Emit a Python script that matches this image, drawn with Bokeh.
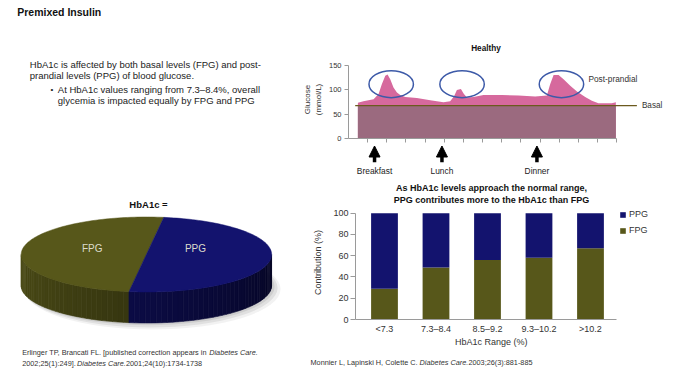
import numpy as np
from bokeh.plotting import figure
from bokeh.layouts import row, column
from bokeh.models import (Range1d, Label, Arrow, NormalHead, FixedTicker, Legend,
                          LegendItem, ColumnDataSource)
from bokeh.embed import file_html
from bokeh.resources import INLINE

FONT = "Liberation Sans"

# ---------------- data ----------------
glucose_time = [0.49, 0.78, 1.31, 1.57, 1.74, 1.92, 2.04, 2.18, 2.35, 2.53, 2.70, 2.96,
                3.57, 4.27, 4.96, 5.31, 5.52, 5.66, 5.87, 6.01, 6.18, 6.53, 7.05, 8.01,
                8.88, 9.75, 10.36, 10.53, 10.71, 10.97, 11.23, 11.58, 11.93, 12.36,
                12.71, 13.05, 13.75, 13.96]
glucose_value = [73, 76, 80, 91, 111, 128, 131, 121, 104, 94, 89, 85,
                 83, 78, 74, 76, 87, 99, 101, 92, 84, 85, 89, 89,
                 88, 86, 88, 111, 130, 130, 121, 108, 96, 85,
                 77, 72, 72, 74]
glucose_ticks = [0, 50, 100, 150]
basal_level = 67
meal_names = ["Breakfast", "Lunch", "Dinner"]
meal_time = [1.36, 4.88, 9.84]
peak_time = [2.23, 5.93, 11.12]
peak_level = [111, 111, 111]

pie_labels = ["FPG", "PPG"]
pie_values = [50, 50]

bar_categories = ["<7.3", "7.3\u20138.4", "8.5\u20139.2", "9.3\u201310.2", ">10.2"]
fpg_contrib = [29, 49, 56, 58, 67]
ppg_contrib = [71, 51, 44, 42, 33]
bar_ticks = [0, 20, 40, 60, 80, 100]

# ---------------- styles ----------------
OLIVE = "#57571a"
NAVY = "#13136e"
PINK = "#d6699d"
MAUVE = "#9b6a7f"
RING = "#3d5aa8"
AXIS = "#9a9a9a"
TXT = "#222222"


def label(p, x, y, text, size, style="normal", color=TXT, align="left",
          baseline="alphabetic", x_offset=0, angle=0):
    p.add_layout(Label(x=x, y=y, text=text, text_font=FONT,
                       text_font_size=f"{size}px", text_font_style=style,
                       text_color=color, text_align=align, text_baseline=baseline,
                       x_offset=x_offset, angle=angle))


def blank(w, h, xr, yr, **kw):
    opts = dict(min_border=0)
    opts.update(kw)
    p = figure(width=w, height=h, x_range=xr, y_range=yr, toolbar_location=None,
               output_backend="svg", x_axis_location=None, y_axis_location=None, **opts)
    p.outline_line_color = None
    for g in p.grid:
        g.visible = False
    return p


# ---------------- A: title + text (page px coords) ----------------
pA = blank(300, 180, Range1d(0, 300), Range1d(180, 0))
label(pA, 16.7, 11.7, "Premixed Insulin", 10.5, "bold", "#111111")
label(pA, 29.3, 64.4, "HbA1c is affected by both basal levels (FPG) and post-", 9.5)
label(pA, 29.3, 75.4, "prandial levels (PPG) of blood glucose.", 9.5)
label(pA, 50.0, 89.4, "\u2022", 8)
label(pA, 57.3, 89.4, "At HbA1c values ranging from 7.3\u20138.4%, overall", 9.5)
label(pA, 57.3, 100.4, "glycemia is impacted equally by FPG and PPG", 9.5)

# ---------------- C: 3D pie (page px coords) ----------------
pC = blank(300, 157, Range1d(0, 300), Range1d(337, 180))
cx, cy, ra, rb, depth = 145.9, 254.0, 125.2, 37.5, 31.0
base_cols = [OLIVE, NAVY]


def rgb(hx):
    return np.array([int(hx[i:i + 2], 16) for i in (1, 3, 5)], float)


# soft shadow under the disc
for k, al in [(6, 0.05), (4, 0.07), (2, 0.08)]:
    pC.ellipse(x=cx + k, y=cy + depth + k * 0.6, width=2 * ra + k, height=2 * rb + k,
               fill_color="#000000", fill_alpha=al, line_color=None)

vals = np.array(pie_values, float)
bounds = np.deg2rad(82) + np.concatenate([[0], np.cumsum(vals / vals.sum())]) * 2 * np.pi

sx, sy, scol = [], [], []
for i in range(len(vals)):
    b0, b1 = bounds[i], bounds[i + 1]
    for k in range(3):
        lo, hi = max(b0, np.pi + 2 * np.pi * k), min(b1, 2 * np.pi + 2 * np.pi * k)
        if hi <= lo:
            continue
        n = max(2, int(np.degrees(hi - lo) / 2.5))
        ts = np.linspace(lo, hi, n + 1)
        for t0, t1 in zip(ts[:-1], ts[1:]):
            tm = ((t0 + t1) / 2) % (2 * np.pi)
            f = 0.88 - 0.55 * (tm - np.pi) / np.pi
            c = np.clip(rgb(base_cols[i]) * f, 0, 255).astype(int)
            colr = "#%02x%02x%02x" % tuple(c)
            x0, x1 = cx + ra * np.cos(t0), cx + ra * np.cos(t1)
            y0, y1 = cy - rb * np.sin(t0), cy - rb * np.sin(t1)
            sx.append([x0, x1, x1, x0])
            sy.append([y0, y1, y1 + depth, y0 + depth])
            scol.append(colr)
pC.patches(sx, sy, fill_color=scol, line_color=scol, line_width=0.6)

for i in range(len(vals)):
    t = np.linspace(bounds[i], bounds[i + 1], 120)
    xs = np.concatenate([[cx], cx + ra * np.cos(t)])
    ys = np.concatenate([[cy], cy - rb * np.sin(t)])
    pC.patch(xs, ys, fill_color=base_cols[i], line_color=base_cols[i], line_width=0.5)

label(pC, 91.7, 248.3, pie_labels[0], 10, color="#dcdccc", align="center", baseline="middle")
label(pC, 195.0, 248.3, pie_labels[1], 10, color="#dcdccc", align="center", baseline="middle")
label(pC, 148.0, 204.0, "HbA1c =", 9.5, "bold", "#111111", "center", "middle")

# ---------------- B: glucose profile ----------------
pB_title = blank(400, 56, Range1d(348, 695), Range1d(56, 0), min_border_left=48, min_border_right=5)
label(pB_title, 485.5, 47.7, "Healthy", 8.2, "bold", "#111111", "center", "middle")

gx = Range1d(0, 18.12)
pB = figure(width=400, height=88, x_range=gx, y_range=Range1d(0, 159.4),
            toolbar_location=None, output_backend="svg",
            min_border_left=48, min_border_right=5, min_border_top=4, min_border_bottom=6)
pB.outline_line_color = None
pB.grid.visible = False
pB.varea(x=glucose_time, y1=0, y2=glucose_value, fill_color=PINK)
pB.varea(x=glucose_time, y1=0, y2=[min(v, basal_level) for v in glucose_value], fill_color=MAUVE)
pB.line([0.35, 15.06], [basal_level, basal_level], line_color="#6b5a1e", line_width=1.3)
pB.ellipse(x=peak_time, y=peak_level, width=2.32, height=55, fill_color=None,
           line_color=RING, line_width=1.5)
label(pB, 12.53, 122.6, "Post-prandial", 8.3, color="#333333", baseline="middle")
label(pB, 15.32, 66.8, "Basal", 8.2, color="#333333", baseline="middle")

xa = pB.xaxis[0]
xa.ticker = FixedTicker(ticks=list(range(1, 15)))
xa.major_label_text_font_size = "1px"
xa.major_label_text_color = None
xa.major_label_standoff = 0
xa.bounds = (0, 14)
xa.major_tick_out = 4
xa.major_tick_in = 0
xa.minor_tick_line_color = None
xa.axis_line_color = AXIS
xa.major_tick_line_color = AXIS

ya = pB.yaxis[0]
ya.ticker = FixedTicker(ticks=glucose_ticks)
ya.bounds = (0, 150)
ya.major_tick_out = 4
ya.major_tick_in = 0
ya.minor_tick_line_color = None
ya.axis_line_color = AXIS
ya.major_tick_line_color = AXIS
ya.major_label_text_font = FONT
ya.major_label_text_font_size = "7.5px"
ya.major_label_text_color = "#333333"
ya.major_label_standoff = 3
ya.axis_label = "Glucose\n(mmol/L)"
ya.axis_label_text_font = FONT
ya.axis_label_text_font_size = "8px"
ya.axis_label_text_font_style = "normal"
ya.axis_label_text_color = "#333333"
ya.axis_label_standoff = 3

pB_bot = blank(400, 36, gx, Range1d(180, 144), min_border_left=48, min_border_right=5)
for name, t in zip(meal_names, meal_time):
    pB_bot.add_layout(Arrow(end=NormalHead(size=11, fill_color="black", line_color="black"),
                            x_start=t, y_start=161.7, x_end=t, y_end=145.5,
                            line_width=3.5, line_color="black"))
    label(pB_bot, t, 170.0, name, 8.4, color="#222222", align="center", baseline="middle")

# ---------------- D: stacked bars ----------------
pD_title = blank(400, 25, Range1d(355, 695), Range1d(205, 180), min_border_left=55, min_border_right=5)
label(pD_title, 491.0, 187.3, "As HbA1c levels approach the normal range,", 9, "bold", "#111111", "center", "middle")
label(pD_title, 491.0, 199.0, "PPG contributes more to the HbA1c than FPG", 9, "bold", "#111111", "center", "middle")

pD = figure(width=400, height=132, x_range=Range1d(-0.563, 6.039), y_range=Range1d(0, 107.2),
            toolbar_location=None, output_backend="svg",
            min_border_left=55, min_border_right=5, min_border_top=0, min_border_bottom=18)
pD.outline_line_color = None
pD.grid.visible = False
src = ColumnDataSource(dict(x=list(range(len(bar_categories))), FPG=fpg_contrib, PPG=ppg_contrib))
rs = pD.vbar_stack(["FPG", "PPG"], x="x", width=0.52, fill_color=[OLIVE, NAVY],
                   line_color=None, source=src)

xd = pD.xaxis[0]
xd.ticker = FixedTicker(ticks=list(range(len(bar_categories))))
xd.major_label_overrides = {i: c for i, c in enumerate(bar_categories)}
xd.bounds = (-0.563, 4.5)
xd.major_tick_out = 0
xd.major_tick_in = 0
xd.minor_tick_line_color = None
xd.axis_line_color = AXIS
xd.major_label_text_font = FONT
xd.major_label_text_font_size = "9px"
xd.major_label_text_color = "#333333"
xd.major_label_standoff = 4

yd = pD.yaxis[0]
yd.ticker = FixedTicker(ticks=bar_ticks)
yd.bounds = (0, 100)
yd.major_tick_out = 5
yd.major_tick_in = 0
yd.minor_tick_line_color = None
yd.axis_line_color = AXIS
yd.major_tick_line_color = AXIS
yd.major_label_text_font = FONT
yd.major_label_text_font_size = "9px"
yd.major_label_text_color = "#333333"
yd.major_label_standoff = 2
yd.axis_label = "Contribution (%)"
yd.axis_label_text_font = FONT
yd.axis_label_text_font_size = "9px"
yd.axis_label_text_font_style = "normal"
yd.axis_label_text_color = "#333333"
yd.axis_label_standoff = 7

legend = Legend(items=[LegendItem(label="PPG", renderers=[rs[1]]),
                       LegendItem(label="FPG", renderers=[rs[0]])],
                location=(264, 83), background_fill_alpha=0, border_line_color=None,
                padding=0, margin=0, spacing=4, glyph_width=7, glyph_height=7,
                label_height=12, label_standoff=3, label_text_font=FONT,
                label_text_font_size="9px", label_text_color="#333333")
pD.add_layout(legend)

# ---------------- bottom strip: citations + x-axis title ----------------
pS = blank(700, 38, Range1d(0, 700), Range1d(375, 337))
label(pS, 21.7, 351.5, "Erlinger TP, Brancati FL. [published correction appears in ", 7.3, color="#333333")
label(pS, 21.7, 351.5, "Diabetes Care.", 7.3, "italic", "#333333", x_offset=187.0)
label(pS, 21.7, 362.5, "2002;25(1):249]. ", 7.3, color="#333333")
label(pS, 21.7, 362.5, "Diabetes Care.", 7.3, "italic", "#333333", x_offset=54.9)
label(pS, 21.7, 362.5, " 2001;24(10):1734-1738", 7.3, color="#333333", x_offset=103.7)
label(pS, 490.8, 341.7, "HbA1c Range (%)", 9, color="#333333", align="center", baseline="middle")
label(pS, 310.0, 361.5, "Monnier L, Lapinski H, Colette C. ", 7.3, color="#333333")
label(pS, 310.0, 361.5, "Diabetes Care.", 7.3, "italic", "#333333", x_offset=109.1)
label(pS, 310.0, 361.5, " 2003;26(3):881-885", 7.3, color="#333333", x_offset=157.9)

layout = column(row(pA, column(pB_title, pB, pB_bot)),
                row(pC, column(pD_title, pD)),
                pS)
open("out.html", "w").write(file_html(layout, INLINE))
